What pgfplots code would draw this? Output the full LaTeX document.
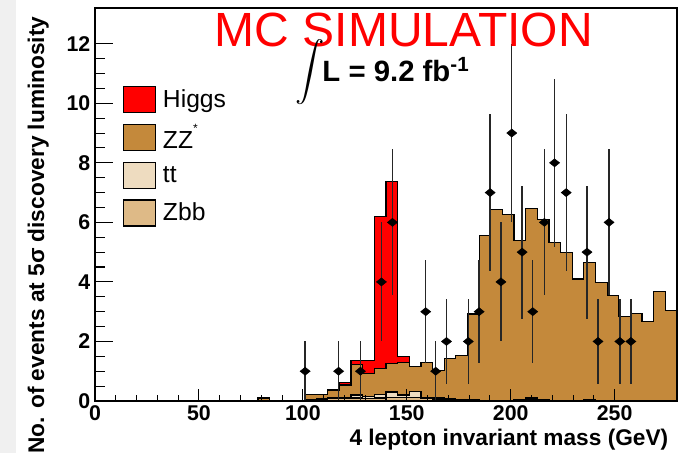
\documentclass[border=0pt]{standalone}
\usepackage{fontspec}
\setmainfont{Liberation Sans}
\usepackage{pgfplots}
\pgfplotsset{compat=1.18}
\usepackage{pgfplotstable}
\usetikzlibrary{backgrounds}
\definecolor{higgsred}{RGB}{255,0,0}
\definecolor{zzbrown}{RGB}{196,137,59}
\definecolor{ttcol}{RGB}{238,220,192}
\definecolor{zbbcol}{RGB}{222,186,135}

\pgfplotstableread{
x zbb tt zz tot
61.6 0 0 0 0
67.2 0 0 0.03 0.03
72.8 0 0 0 0
78.4 0 0 0.1 0.1
84.0 0 0 0 0
89.6 0 0 0.03 0.03
95.2 0 0 0 0
100.8 0.02 0.05 0.23 0.23
106.4 0.05 0.08 0.23 0.23
112.0 0.08 0.10 0.37 0.37
117.6 0.08 0.12 0.54 0.63
123.2 0.10 0.20 1.22 1.36
128.8 0.08 0.15 0.93 1.36
134.4 0.10 0.22 1.10 6.20
140.0 0.12 0.30 1.27 7.36
145.6 0.12 0.20 1.30 1.49
151.2 0.12 0.32 1.16 1.16
156.8 0.08 0.12 1.30 1.30
162.4 0.06 0.10 1.03 1.03
168.0 0.05 0.08 1.43 1.43
173.6 0.04 0.06 1.53 1.53
179.2 0.03 0.04 2.92 2.92
184.8 0.02 0.03 5.55 5.55
190.4 0.02 0.02 6.42 6.42
196.0 0 0.01 6.26 6.26
201.6 0.03 0.05 5.38 5.38
207.2 0.05 0.10 6.46 6.46
212.8 0.02 0.04 6.09 6.09
218.4 0 0 5.33 5.33
224.0 0 0.02 4.99 4.99
229.6 0 0 4.10 4.10
235.2 0.02 0.05 4.64 4.64
240.8 0 0 3.98 3.98
246.4 0 0.02 3.54 3.54
252.0 0 0 2.84 2.84
257.6 0 0 2.93 2.93
263.2 0 0.02 2.67 2.67
268.8 0 0 3.68 3.68
274.4 0 0 3.04 3.04
280.0 0 0 3.04 3.04
}\hist

\pgfplotstableread{
x y e
101.1 1 1
117.2 1 1
127.7 1 1
137.8 4 2
143.1 6 2.449
159.1 3 1.732
163.9 1 1
169.1 2 1.414
179.6 2 1.414
184.8 3 1.732
190.1 7 2.646
195.3 4 2
200.5 9 3
205.5 5 2.236
210.6 3 1.732
216.2 6 2.449
221.1 8 2.828
226.7 7 2.646
236.7 5 2.236
242.0 2 1.414
247.3 6 2.449
252.5 2 1.414
257.8 2 1.414
}\data

\begin{document}
\begin{tikzpicture}
\begin{axis}[
  scale only axis, width=436.5pt, height=294.75pt,
  xmin=0, xmax=280, ymin=0, ymax=13.2,
  axis on top,
  xtick={0,50,...,250}, minor x tick num=4,
  ytick={0,2,...,12}, minor y tick num=3,
  tick align=inside, xtick pos=bottom, ytick pos=left,
  xtick style={/pgfplots/major tick length=9pt, /pgfplots/minor tick length=4.5pt, line width=0.8pt, black},
  ytick style={/pgfplots/major tick length=13.75pt, /pgfplots/minor tick length=7.5pt, line width=0.8pt, black},
  axis line style={line width=0.8pt},
  /pgf/number format/assume math mode=true,
  ticklabel style={font=\bfseries\fontsize{16}{16}\selectfont},
  xlabel={4 lepton invariant mass (GeV)},
  xlabel style={at={(rel axis cs:0.993,-0.112)}, anchor=base east, font=\bfseries\fontsize{17}{17}\selectfont},
  ylabel={No. of events at 5σ discovery luminosity},
  ylabel style={at={(rel axis cs:-0.0876,0.99)}, anchor=base east, font=\bfseries\fontsize{17}{17}\selectfont},
  legend style={at={(rel axis cs:0.0481,0.8015)}, anchor=north west, draw=none, fill=none,
    inner sep=0pt, row sep=8pt, column sep=5pt, nodes={inner sep=0pt},
    font=\fontsize{18.5}{18.5}\selectfont},
  legend cell align=left,
  legend image code/.code={\draw[#1,draw=black,line width=0.8pt] (0pt,-9.75pt) rectangle (24pt,9.75pt);},
]
\addplot[const plot, fill=higgsred, draw=black, line width=0.9pt] table[x=x,y=tot]{\hist} \closedcycle;
\addlegendentry{Higgs}
\addplot[const plot, fill=zzbrown, draw=black, line width=0.9pt] table[x=x,y=zz]{\hist} \closedcycle;
\addlegendentry{ZZ\raisebox{12pt}{\fontsize{9}{9}\selectfont *}}
\addplot[const plot, fill=ttcol, draw=black, line width=0.9pt] table[x=x,y=tt]{\hist} \closedcycle;
\addlegendentry{tt}
\addplot[const plot, fill=zbbcol, draw=black, line width=0.9pt] table[x=x,y=zbb]{\hist} \closedcycle;
\addlegendentry{Zbb}
\addplot[forget plot, only marks, mark=diamond*, mark size=3pt, black, mark options={xscale=1.67},
  error bars/.cd, y dir=both, y explicit, error mark=none,
  error bar style={line width=1pt, black!85}]
  table[x=x,y=y,y error=e]{\data};
\node[anchor=base west, text=red, font=\fontsize{36}{36}\selectfont, inner sep=0pt] at (axis cs:57.6,11.91) {MC SIMULATION};
\node[inner sep=0pt, scale=2.2] at (axis cs:103.3,11.05) {$\displaystyle\int$};
\node[anchor=base west, inner sep=0pt, font=\bfseries\fontsize{22}{22}\selectfont] at (axis cs:109.3,10.73) {L = 9.2 fb\textsuperscript{-1}};
\end{axis}
\pgfresetboundingbox
\path ([xshift=-71.25pt,yshift=-39pt]current axis.south west) rectangle ([xshift=6.75pt,yshift=6pt]current axis.north east);
\begin{pgfonlayer}{background}
\fill[black!6] ([xshift=-71.25pt,yshift=-39pt]current axis.south west) rectangle ([xshift=-59.25pt,yshift=6pt]current axis.north west);
\end{pgfonlayer}
\end{tikzpicture}
\end{document}
